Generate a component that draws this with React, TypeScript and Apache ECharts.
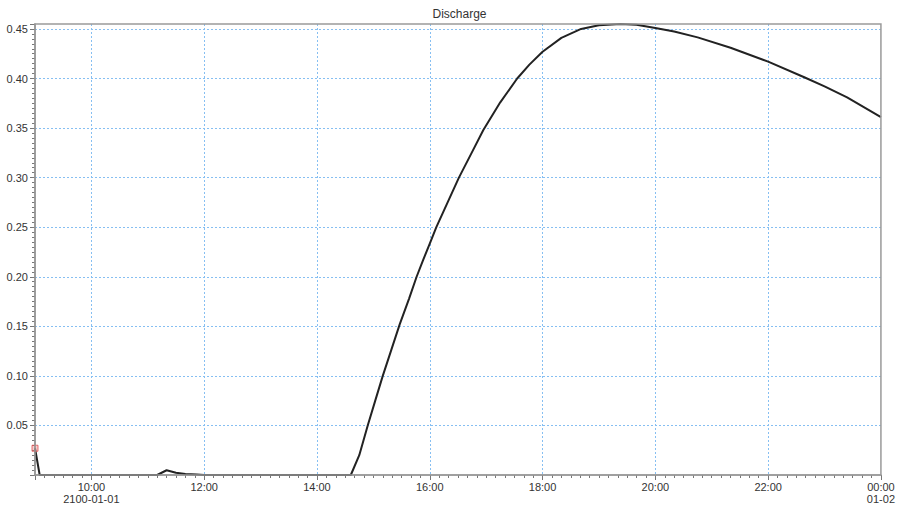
import React, { useEffect, useRef } from "react";
import * as echarts from "echarts";

// Discharge time series, 2100-01-01 09:00 .. 2100-01-02 00:00
const times: string[] = [
  "09:00", "09:05", "11:10", "11:20", "11:30", "11:40", "11:52", "12:00",
  "14:36", "14:45", "14:54", "15:02", "15:10", "15:19", "15:28", "15:38",
  "15:46", "15:53", "16:00", "16:07", "16:19", "16:31", "16:44", "16:57",
  "17:15", "17:33", "17:46", "18:00", "18:20", "18:41", "19:00", "19:23",
  "19:40", "20:00", "20:20", "20:45", "21:20", "22:00", "22:39", "23:00",
  "23:24", "24:00",
];
const discharge: number[] = [
  0.027, 0.0, 0.0, 0.0048, 0.0022, 0.001, 0.0005, 0.0,
  0.0, 0.02, 0.05, 0.075, 0.1, 0.126, 0.152, 0.178,
  0.2, 0.217, 0.2335, 0.25, 0.275, 0.3, 0.324, 0.348,
  0.376, 0.4, 0.414, 0.427, 0.441, 0.45, 0.4537, 0.455,
  0.4542, 0.451, 0.4475, 0.4415, 0.431, 0.417, 0.401, 0.392,
  0.381, 0.361,
];
const xLabels: Record<number, string> = {
  10: "10:00\n2100-01-01",
  12: "12:00",
  14: "14:00",
  16: "16:00",
  18: "18:00",
  20: "20:00",
  22: "22:00",
  24: "00:00\n01-02",
};
const title = "Discharge";

const toHours = (s: string) => {
  const [h, m] = s.split(":").map(Number);
  return h + m / 60;
};

export default function App() {
  const ref = useRef<HTMLDivElement>(null);
  useEffect(() => {
    if (!ref.current) return;
    const chart = echarts.init(ref.current, undefined, { renderer: "svg" });
    const pts = times.map((t, i) => [toHours(t), discharge[i]]);
    const font = "'Liberation Sans', Arial, sans-serif";
    const grid = "#86bff2";
    chart.setOption({
      animation: false,
      backgroundColor: "#fff",
      graphic: [
        {
          type: "text",
          x: 459.5,
          y: 8,
          style: {
            text: title,
            fill: "#333",
            font: `12px ${font}`,
            textAlign: "center",
            textVerticalAlign: "top",
          },
        },
      ],
      grid: {
        left: 35,
        right: 14,
        top: 24,
        bottom: 30,
        show: true,
        borderColor: "#9a9a9a",
        borderWidth: 1.5,
        z: 5,
      },
      xAxis: {
        type: "value",
        min: 9,
        max: 24,
        splitNumber: 7,
        minInterval: 2,
        maxInterval: 2,
        axisLine: { show: true, lineStyle: { color: "#999", width: 1.5 } },
        axisTick: { show: true, length: 5, lineStyle: { color: "#777" } },
        minorTick: { show: true, splitNumber: 12, length: 3, lineStyle: { color: "#777" } },
        splitLine: {
          show: true,
          showMinLine: false,
          showMaxLine: false,
          lineStyle: { color: grid, type: [2, 2], width: 1 },
        },
        axisLabel: {
          color: "#333",
          fontSize: 11,
          lineHeight: 12,
          fontFamily: font,
          margin: 6,
          showMinLabel: false,
          formatter: (v: number) => xLabels[Math.round(v)] ?? "",
        },
      },
      yAxis: {
        type: "value",
        min: 0,
        max: 0.455,
        interval: 0.05,
        axisLine: { show: true, lineStyle: { color: "#888", width: 1.5 } },
        axisTick: { show: true, length: 5, lineStyle: { color: "#777" } },
        minorTick: { show: true, splitNumber: 10, length: 3, lineStyle: { color: "#777" } },
        splitLine: {
          show: true,
          showMinLine: false,
          showMaxLine: false,
          lineStyle: { color: grid, type: [2, 2], width: 1 },
        },
        axisLabel: {
          color: "#333",
          fontSize: 11,
          fontFamily: font,
          margin: 7,
          formatter: (v: number) => (v < 0.001 || v > 0.451 ? "" : v.toFixed(2)),
        },
      },
      series: [
        {
          type: "line",
          data: pts,
          symbol: "none",
          smooth: false,
          lineStyle: { color: "#222", width: 2 },
          z: 3,
        },
        {
          type: "scatter",
          data: [pts[0]],
          symbol: "rect",
          symbolSize: 6,
          itemStyle: { color: "rgba(240,120,120,0.45)", borderColor: "#e05050", borderWidth: 1 },
          z: 4,
        },
      ],
    });
    return () => chart.dispose();
  }, []);
  return (
    <div
      ref={ref}
      style={{ position: "fixed", left: 0, top: 0, width: 898, height: 505, background: "#fff" }}
    />
  );
}
